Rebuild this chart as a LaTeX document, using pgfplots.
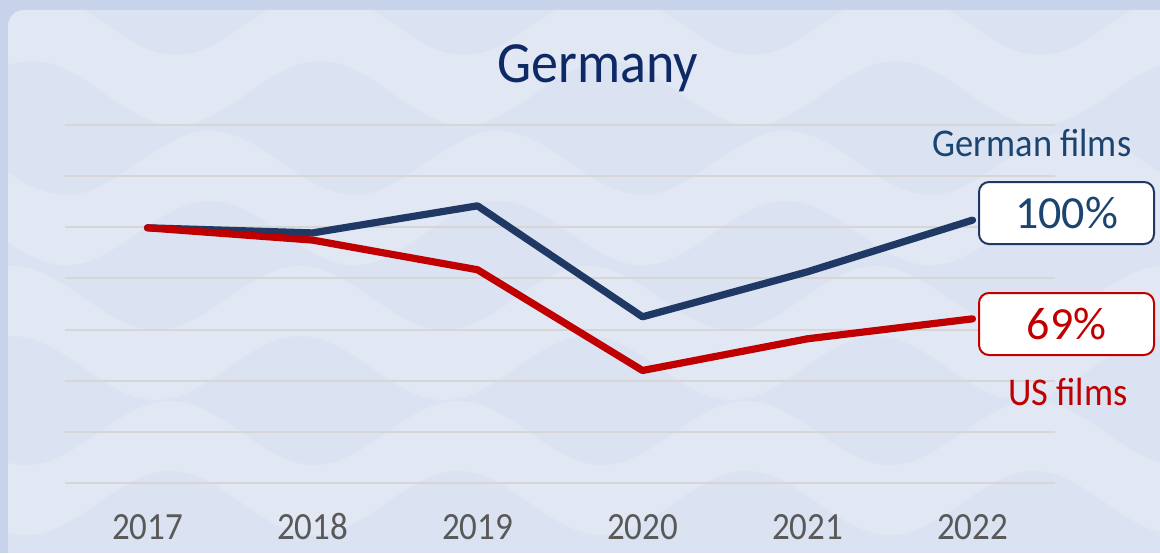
\documentclass[border=0pt]{standalone}
\usepackage{pgfplots}
\pgfplotsset{compat=1.18}
\usepackage{fontspec}
\setmainfont{Carlito}
\definecolor{outerbg}{HTML}{C7D3EB}
\definecolor{panel}{HTML}{DBE2F1}
\definecolor{wave}{HTML}{E2E7F4}
\definecolor{navy}{HTML}{1F3864}
\definecolor{usred}{HTML}{C00000}
\definecolor{gridc}{HTML}{D6D6D6}
\definecolor{tickc}{HTML}{595959}
\definecolor{titlec}{HTML}{0E2A66}
\definecolor{labc}{HTML}{1B4470}
\begin{document}
\begin{tikzpicture}[x=0.5pt,y=0.5pt]
\useasboundingbox (0,0) rectangle (1160,553);
\fill[outerbg] (0,0) rectangle (1160,553);
\begin{scope}
  \clip[rounded corners=8] (8,-30) rectangle (1200,543);
  \fill[panel] (0,0) rectangle (1160,553);
  % soft wave bands in the background
  \foreach \c/\p in {530/40, 390/150, 255/60, 120/190} {
    \fill[wave] (-\p,\c) \foreach \i in {1,...,6}{ sin ++(72,32) cos ++(72,-32) sin ++(72,-32) cos ++(72,32) }
      -- ++(0,-70) \foreach \i in {1,...,6}{ sin ++(-72,-32) cos ++(-72,32) sin ++(-72,32) cos ++(-72,-32) } -- cycle;
  }
\end{scope}

\begin{axis}[
    at={(32.5pt,35pt)}, anchor=south west,
    scale only axis, width=495pt, height=179pt,
    xmin=-0.5, xmax=5.5, ymin=0, ymax=7,
    axis line style={draw=none},
    major tick length=0pt,
    xtick={0,...,5},
    xticklabels={2017,2018,2019,2020,2021,2022},
    xticklabel style={font=\fontsize{17.5}{20}\selectfont, text=tickc, anchor=base, yshift=-28pt, yscale=1.1},
    ytick={0,...,7}, yticklabel=\empty,
    ymajorgrids, grid style={gridc, line width=1pt},
    clip=false,
  ]
  % German films
  \addplot[navy, line width=3.6pt, line join=round, line cap=round]
    coordinates {(0,4.99)(1,4.89)(2,5.42)(3,3.25)(4,4.13)(5,5.14)};
  % US films
  \addplot[usred, line width=3.6pt, line join=round, line cap=round]
    coordinates {(0,4.99)(1,4.75)(2,4.17)(3,2.20)(4,2.82)(5,3.21)};
\end{axis}

\node[font=\fontsize{27}{30}\selectfont, text=titlec, yscale=1.08] at (598,485) {Germany};
\node[font=\fontsize{18.2}{21}\selectfont, text=labc, yscale=1.08] at (1032,410) {German films};
\node[draw=navy, line width=1pt, fill=white, rounded corners=5pt, minimum width=87.5pt, minimum height=31pt,
      font=\fontsize{23}{26}\selectfont, text=labc] at (1066.5,340) {100\%};
\node[draw=usred, line width=1pt, fill=white, rounded corners=5pt, minimum width=87.5pt, minimum height=31pt,
      font=\fontsize{23}{26}\selectfont, text=usred] at (1066.5,229) {69\%};
\node[font=\fontsize{18.2}{21}\selectfont, text=usred, yscale=1.08] at (1068,161) {US films};
\end{tikzpicture}
\end{document}
